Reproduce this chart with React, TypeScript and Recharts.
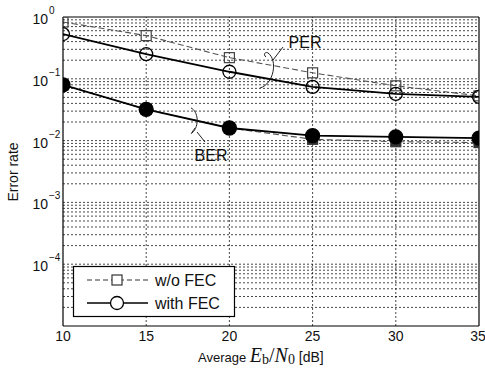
import { Line, LineChart, ReferenceLine, XAxis, YAxis } from "recharts";

const snr = [10, 15, 20, 25, 30, 35];
const perNoFec = [0.83, 0.5, 0.22, 0.125, 0.077, 0.053];
const perFec = [0.53, 0.25, 0.13, 0.074, 0.057, 0.051];
const berNoFec = [0.08, 0.032, 0.016, 0.0105, 0.0096, 0.0093];
const berFec = [0.08, 0.032, 0.016, 0.012, 0.0115, 0.011];

const xTicks = [10, 15, 20, 25, 30, 35];
const yTicks = [1e-4, 1e-3, 1e-2, 1e-1, 1];
const decades = [1e-5, 1e-4, 1e-3, 1e-2, 1e-1];
const minorSteps = [2, 3, 4, 5, 6, 7, 8, 9];
const legendLabels = ["w/o FEC", "with FEC"];

const data = snr.map((x, i) => ({
  x,
  perNoFec: perNoFec[i],
  perFec: perFec[i],
  berNoFec: berNoFec[i],
  berFec: berFec[i],
}));

const FONT = '"Liberation Sans", Arial, Helvetica, sans-serif';
const MATH = '"Liberation Serif", "DejaVu Serif", serif';

const gridProps = { stroke: "#000", strokeWidth: 0.8, strokeDasharray: "2 2", strokeOpacity: 0.9 };

function Square({ cx, cy, fill, stroke }: any) {
  if (cx == null || cy == null) return null;
  return <rect x={cx - 5} y={cy - 5} width={10} height={10} fill={fill} stroke={stroke} strokeWidth={1.2} />;
}

function Circle({ cx, cy, fill, r }: any) {
  if (cx == null || cy == null) return null;
  return <circle cx={cx} cy={cy} r={r} fill={fill} stroke="#000" strokeWidth={1.3} />;
}

function YTick({ y, payload }: any) {
  const e = Math.round(Math.log10(payload.value));
  const exp = e < 0 ? "\u2212" + Math.abs(e) : String(e);
  return (
    <g fontFamily={FONT} fill="#111">
      <text x={48} y={y + 7} fontSize={14} textAnchor="end">10</text>
      <text x={49} y={y - 3} fontSize={10} textAnchor="start">{exp}</text>
    </g>
  );
}

export default function App() {
  return (
    <div style={{ position: "absolute", left: 0, top: 0, width: 485, height: 369, background: "#fff" }}>
      <LineChart width={485} height={369} data={data} margin={{ top: 17, right: 6, bottom: 0, left: 0 }}>
        <XAxis
          dataKey="x"
          type="number"
          domain={[10, 35]}
          ticks={xTicks}
          tickLine={false}
          tickSize={0}
          axisLine={{ stroke: "#000", strokeWidth: 1.2 }}
          tick={{ fill: "#111", fontSize: 14, fontFamily: FONT }}
          tickMargin={5}
          height={43}
          allowDataOverflow
        />
        <YAxis
          scale="log"
          type="number"
          domain={[1e-5, 1]}
          ticks={yTicks}
          tickLine={false}
          axisLine={{ stroke: "#000", strokeWidth: 1.2 }}
          tick={<YTick />}
          width={63}
          allowDataOverflow
        />
        {decades.flatMap((d) =>
          minorSteps.map((m) => <ReferenceLine key={`m${d}-${m}`} y={d * m} {...gridProps} />)
        )}
        {yTicks.slice(0, 4).map((v) => (
          <ReferenceLine key={`y${v}`} y={v} {...gridProps} />
        ))}
        {xTicks.slice(1, 5).map((v) => (
          <ReferenceLine key={`x${v}`} x={v} {...gridProps} />
        ))}
        <ReferenceLine y={1} stroke="#000" strokeWidth={1.2} />
        <ReferenceLine x={35} stroke="#000" strokeWidth={1.2} />
        <Line
          type="linear"
          dataKey="perNoFec"
          stroke="#555"
          strokeWidth={1.1}
          strokeDasharray="6 3"
          dot={<Square fill="none" stroke="#444" />}
          isAnimationActive={false}
        />
        <Line
          type="linear"
          dataKey="berNoFec"
          stroke="#555"
          strokeWidth={1.1}
          strokeDasharray="6 3"
          dot={<Square fill="#333" stroke="#333" />}
          isAnimationActive={false}
        />
        <Line
          type="linear"
          dataKey="perFec"
          stroke="#000"
          strokeWidth={1.8}
          dot={<Circle fill="none" r={6.5} />}
          isAnimationActive={false}
        />
        <Line
          type="linear"
          dataKey="berFec"
          stroke="#000"
          strokeWidth={1.8}
          dot={<Circle fill="#000" r={7} />}
          isAnimationActive={false}
        />
      </LineChart>
      <svg width={485} height={369} style={{ position: "absolute", left: 0, top: 0, pointerEvents: "none" }}>
        <g transform="translate(73 266)">
          <rect x={0.5} y={0.5} width={161} height={50} fill="#fff" stroke="#000" strokeWidth={1.2} />
          <line x1={14} x2={75} y1={14} y2={14} stroke="#333" strokeWidth={1.1} strokeDasharray="5 3" />
          <rect x={39} y={9} width={10} height={10} fill="#fff" stroke="#333" strokeWidth={1.2} />
          <text x={82} y={20} fontSize={16} fontFamily={FONT} fill="#111">{legendLabels[0]}</text>
          <line x1={14} x2={75} y1={37} y2={37} stroke="#000" strokeWidth={1.6} />
          <circle cx={44} cy={37} r={6.5} fill="#fff" stroke="#000" strokeWidth={1.3} />
          <text x={82} y={43} fontSize={16} fontFamily={FONT} fill="#111">{legendLabels[1]}</text>
        </g>
        <text x={305} y={48} fontSize={16} fontFamily={FONT} textAnchor="middle" fill="#111">PER</text>
        <path d="M 260 88 C 274 84, 278 60, 268 53 C 265 51, 263 55, 266 57" fill="none" stroke="#222" strokeWidth={1} />
        <line x1={273} y1={60} x2={283} y2={47} stroke="#222" strokeWidth={1} />
        <text x={211} y={161} fontSize={16} fontFamily={FONT} textAnchor="middle" fill="#111">BER</text>
        <path d="M 191 108 C 198 111, 200 126, 192 133 C 190 135, 193 131, 195 128" fill="none" stroke="#222" strokeWidth={1} />
        <line x1={197} y1={132} x2={205} y2={142} stroke="#222" strokeWidth={1} />
        <text x={18} y={172} fontSize={14} fontFamily={FONT} textAnchor="middle" fill="#111" transform="rotate(-90 18 172)">
          Error rate
        </text>
        <text x={198} y={362} fontSize={13} fontFamily={FONT} textAnchor="start" fill="#111">
          <tspan>Average </tspan>
          <tspan fontFamily={MATH} fontStyle="italic" fontSize={20}>E</tspan>
          <tspan fontFamily={MATH} fontSize={14} dy={2}>b</tspan>
          <tspan fontFamily={MATH} fontSize={20} dy={-2}>/</tspan>
          <tspan fontFamily={MATH} fontStyle="italic" fontSize={20}>N</tspan>
          <tspan fontFamily={MATH} fontSize={14} dy={2}>0</tspan>
          <tspan fontSize={14} dy={-2}> [dB]</tspan>
        </text>
      </svg>
    </div>
  );
}
